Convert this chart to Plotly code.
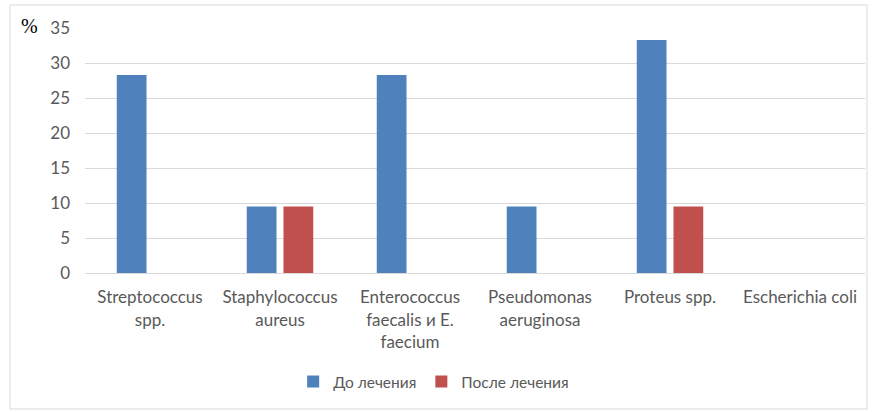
import plotly.graph_objects as go

categories = ["Streptococcus<br>spp.", "Staphylococcus<br>aureus", "Enterococcus<br>faecalis и E.<br>faecium",
              "Pseudomonas<br>aeruginosa", "Proteus spp.", "Escherichia coli"]
before = [28.3, 9.5, 28.3, 9.5, 33.3, 0]
after = [0, 9.5, 0, 0, 9.5, 0]
y_ticks = [0, 5, 10, 15, 20, 25, 30, 35]

W, H = 876, 412
ml, mr, mt, mb = 85, 11, 28, 139
pw, ph = W - ml - mr, H - mt - mb

fig = go.Figure()
fig.add_trace(go.Bar(x=categories, y=before, name="До лечения", marker=dict(color="#4f81bd", line=dict(width=0))))
fig.add_trace(go.Bar(x=categories, y=after, name="После лечения", marker=dict(color="#c0504d", line=dict(width=0))))

font = dict(family="Lato, Open Sans, sans-serif", size=17, color="#595959")

def px_x(p):
    return (p - ml) / pw

def px_y(p):
    return (H - mb - p) / ph

fig.add_shape(type="rect", xref="paper", yref="paper",
              x0=px_x(10), x1=px_x(867), y0=px_y(409), y1=px_y(5),
              line=dict(color="#d9d9d9", width=1), fillcolor="rgba(0,0,0,0)", layer="below")

fig.add_annotation(text="%", xref="paper", yref="paper", x=px_x(29), y=px_y(26),
                   showarrow=False, font=dict(family="Liberation Serif, serif", size=20, color="#000000"),
                   xanchor="center", yanchor="middle")

fig.update_layout(
    width=W, height=H,
    margin=dict(l=ml, r=mr, t=mt, b=mb, autoexpand=False),
    paper_bgcolor="white", plot_bgcolor="white",
    barmode="group", bargap=0.435, bargroupgap=0.19,
    font=font,
    showlegend=True,
    legend=dict(orientation="h", x=0.447, xanchor="center", y=px_y(382), yanchor="middle",
                font=dict(family="Lato, Open Sans, sans-serif", size=15.5, color="#595959"),
                itemwidth=30, tracegroupgap=0),
    xaxis=dict(showgrid=False, showline=True, linecolor="#d9d9d9", linewidth=1, ticks="",
               tickfont=font, ticklabelstandoff=9, fixedrange=True),
    yaxis=dict(range=[0, 35], tickvals=y_ticks, showgrid=True, gridcolor="#d9d9d9", gridwidth=1,
               zeroline=False, showline=False, ticks="", tickfont=font, ticklabelstandoff=14,
               fixedrange=True),
)

fig.write_html("out.html")
